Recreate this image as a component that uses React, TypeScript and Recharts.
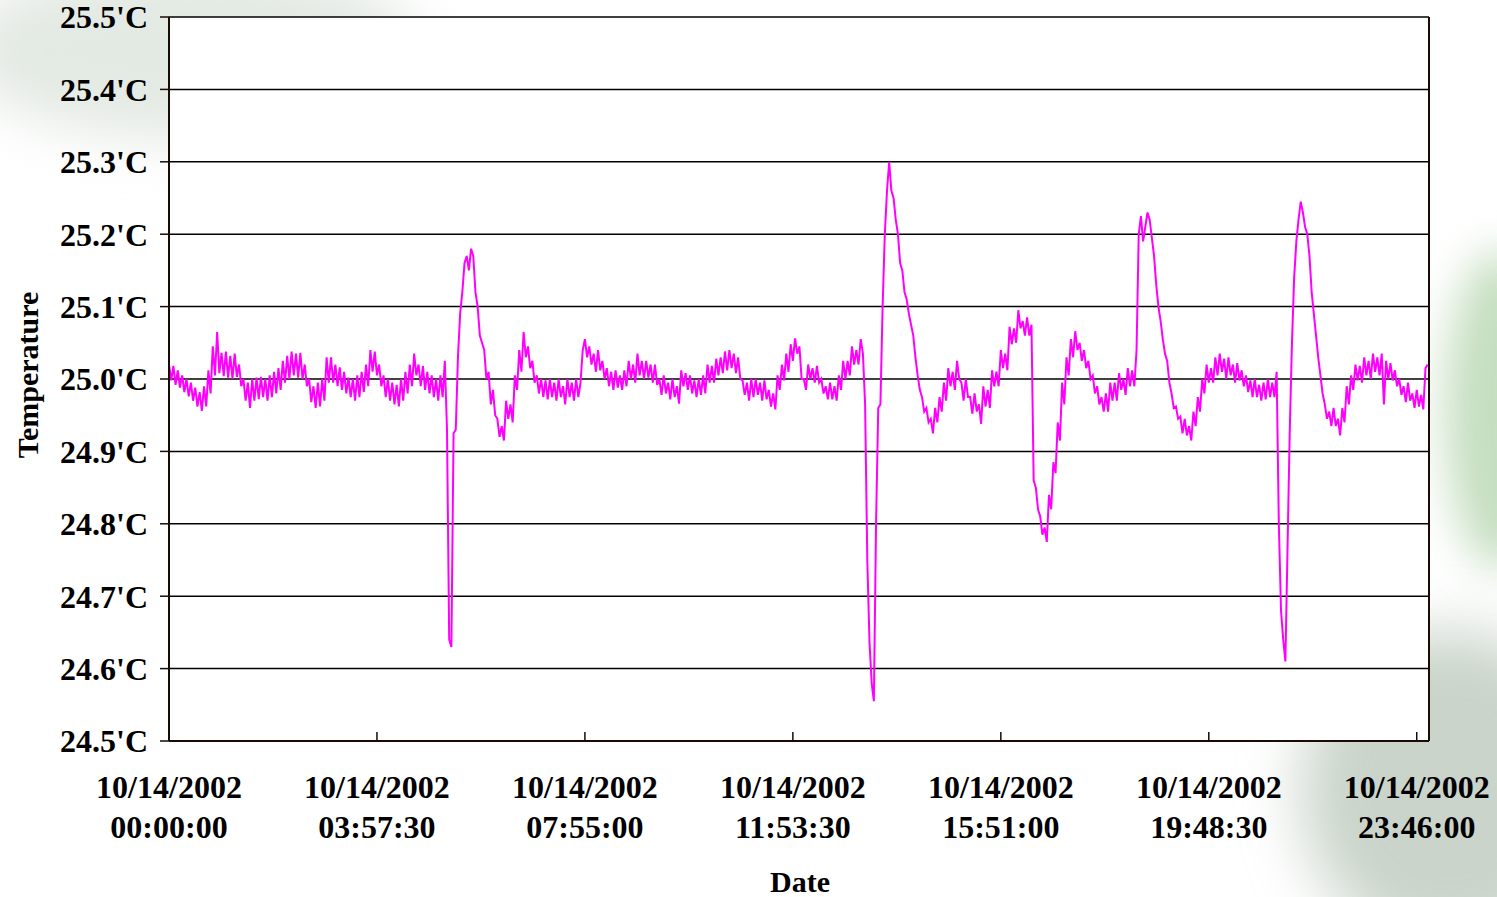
import { CartesianGrid, Line, LineChart, ReferenceLine, XAxis, YAxis } from "recharts";

// temperature log, one reading every 2.5 minutes, split in 4-hour blocks
const block00 = [
  25.02, 24.998, 25.018, 24.992, 25.012, 24.988, 25.005, 24.982, 25.0, 24.976, 24.995, 24.97,
  24.988, 24.962, 24.982, 24.956, 24.99, 24.962, 25.012, 24.98, 25.045, 25.005, 25.065, 25.008,
  25.036, 25.004, 25.038, 25.002, 25.032, 25.0, 25.035, 25.003, 25.02, 24.99, 25.0, 24.97,
  24.995, 24.96, 25.0, 24.97, 25.002, 24.972, 25.003, 24.975, 25.0, 24.97, 25.005, 24.975,
  25.01, 24.98, 25.015, 24.985, 25.025, 24.995, 25.032, 25.0, 25.038, 25.005, 25.035, 25.002,
  25.036, 25.0, 25.02, 24.99, 25.0, 24.968, 24.99, 24.96, 24.995, 24.962, 25.0, 24.97,
  25.03, 24.995, 25.03, 24.995, 25.02, 24.99, 25.016, 24.985, 25.01, 24.98, 25.002, 24.975,
  25.0, 24.97, 25.005, 24.975, 25.01, 24.982, 25.02, 24.99, 25.04, 25.01, 25.038, 25.005,
];
const block04 = [
  25.02, 24.99, 25.005, 24.975, 25.0, 24.97, 24.995, 24.965, 24.992, 24.962, 25.0, 24.97,
  25.01, 24.98, 25.02, 24.99, 25.035, 25.005, 25.02, 24.99, 25.018, 24.985, 25.01, 24.98,
  25.005, 24.975, 25.0, 24.97, 25.005, 24.975, 25.025, 24.93, 24.64, 24.63, 24.925, 24.93,
  25.03, 25.09, 25.12, 25.16, 25.17, 25.15, 25.18, 25.17, 25.12, 25.1, 25.06, 25.05,
  25.04, 25.0, 25.01, 24.965, 24.985, 24.95, 24.945, 24.92, 24.935, 24.915, 24.97, 24.945,
  24.965, 24.94, 25.005, 24.985, 25.04, 25.01, 25.065, 25.03, 25.045, 25.015, 25.025, 24.995,
  25.005, 24.98, 25.0, 24.975, 24.998, 24.972, 25.0, 24.975, 24.995, 24.97, 25.0, 24.975,
  24.99, 24.965, 25.0, 24.975, 24.995, 24.97, 25.0, 24.975, 24.995, 25.04, 25.055, 25.03,
];
const block08 = [
  25.045, 25.02, 25.035, 25.01, 25.04, 25.012, 25.025, 25.0, 25.015, 24.99, 25.01, 24.985,
  25.012, 24.988, 25.005, 24.985, 25.012, 24.99, 25.025, 25.0, 25.02, 24.995, 25.035, 25.005,
  25.025, 25.0, 25.025, 25.002, 25.02, 24.995, 25.02, 24.992, 25.0, 24.978, 25.005, 24.98,
  24.995, 24.972, 25.0, 24.975, 24.99, 24.966, 25.012, 24.99, 25.008, 24.985, 25.005, 24.98,
  24.998, 24.975, 25.0, 24.978, 25.005, 24.98, 25.02, 24.995, 25.018, 24.995, 25.028, 25.005,
  25.03, 25.008, 25.038, 25.012, 25.04, 25.015, 25.035, 25.008, 25.03, 25.0, 24.998, 24.978,
  24.995, 24.97, 25.0, 24.975, 25.0, 24.978, 24.995, 24.97, 24.998, 24.972, 24.985, 24.962,
  24.98, 24.958, 25.005, 24.985, 25.02, 24.998, 25.035, 25.01, 25.048, 25.025, 25.056, 25.035,
];
const block12 = [
  25.045, 25.0, 25.0, 24.985, 25.02, 25.0, 25.015, 24.995, 25.018, 24.995, 25.0, 24.98,
  24.99, 24.972, 24.995, 24.972, 24.99, 24.97, 25.005, 24.985, 25.025, 25.0, 25.025, 25.005,
  25.045, 25.02, 25.04, 25.02, 25.055, 25.035, 24.965, 24.75, 24.637, 24.58, 24.555, 24.8,
  24.96, 24.965, 25.1, 25.2, 25.26, 25.3, 25.26, 25.25, 25.22, 25.2, 25.16, 25.15,
  25.12, 25.11, 25.09, 25.075, 25.06, 25.03, 25.005, 24.985, 24.975, 24.955, 24.96, 24.94,
  24.945, 24.925, 24.96, 24.94, 24.975, 24.955, 24.995, 24.97, 25.015, 24.99, 25.01, 24.985,
  25.025, 25.0, 24.995, 24.97, 25.0, 24.975, 24.975, 24.952, 24.98, 24.955, 24.965, 24.938,
  24.99, 24.962, 24.985, 24.96, 25.012, 24.99, 25.01, 24.99, 25.04, 25.015, 25.035, 25.012,
];
const block16 = [
  25.072, 25.048, 25.07, 25.05, 25.095, 25.07, 25.08, 25.06, 25.085, 25.06, 25.075, 24.86,
  24.85, 24.82, 24.81, 24.785, 24.795, 24.775, 24.84, 24.82, 24.885, 24.87, 24.94, 24.915,
  24.995, 24.965, 25.03, 25.005, 25.055, 25.03, 25.066, 25.04, 25.05, 25.025, 25.04, 25.015,
  25.025, 25.0, 25.005, 24.98, 24.99, 24.965, 24.975, 24.955, 24.98, 24.955, 24.995, 24.97,
  24.995, 24.97, 25.008, 24.985, 25.0, 24.978, 25.015, 24.99, 25.012, 24.99, 25.04, 25.2,
  25.225, 25.19, 25.21, 25.23, 25.22, 25.195, 25.17, 25.13, 25.1, 25.08, 25.055, 25.035,
  25.025, 24.995, 24.98, 24.96, 24.962, 24.945, 24.948, 24.925, 24.945, 24.922, 24.935, 24.915,
  24.955, 24.935, 24.975, 24.955, 25.0, 24.98, 25.02, 24.995, 25.015, 24.995, 25.03, 25.005,
];
const block20 = [
  25.035, 25.01, 25.028, 25.0, 25.03, 25.005, 25.02, 24.995, 25.022, 24.998, 25.012, 24.99,
  25.005, 24.982, 24.998, 24.975, 25.0, 24.975, 24.992, 24.97, 24.995, 24.972, 25.0, 24.975,
  24.995, 24.975, 25.01, 24.8, 24.68, 24.64, 24.61, 24.77, 24.93, 25.05, 25.14, 25.19,
  25.22, 25.245, 25.23, 25.21, 25.2, 25.17, 25.12, 25.09, 25.06, 25.03, 25.005, 24.98,
  24.965, 24.945, 24.955, 24.935, 24.96, 24.935, 24.945, 24.922, 24.96, 24.94, 24.99, 24.965,
  25.005, 24.985, 25.02, 24.998, 25.018, 24.995, 25.03, 25.005, 25.025, 25.0, 25.035, 25.01,
  25.03, 25.005, 25.035, 24.965, 25.025, 25.0, 25.022, 24.998, 25.012, 24.99, 25.0, 24.978,
  24.99, 24.968, 24.995, 24.97, 24.98, 24.96, 24.985, 24.962, 24.978, 24.958, 25.015, 25.02,
];

const stepMinutes = 2.5;
const xTicks = [0, 237.5, 475, 712.5, 950, 1187.5, 1425];
const xDate = "10/14/2002";
const xTimes = ["00:00:00", "03:57:30", "07:55:00", "11:53:30", "15:51:00", "19:48:30", "23:46:00"];
const yTicks = [24.5, 24.6, 24.7, 24.8, 24.9, 25.0, 25.1, 25.2, 25.3, 25.4, 25.5];

const readings = [...block00, ...block04, ...block08, ...block12, ...block16, ...block20];
const data = readings.map((temp, i) => ({ minute: i * stepMinutes, temp }));

const font = "'Liberation Serif', 'Times New Roman', serif";
const frame = "#1a0c04";

function DateTick(props: any) {
  const { x, y, payload } = props;
  const idx = xTicks.indexOf(payload.value);
  return (
    <g>
      <line x1={x} y1={y} x2={x} y2={y - 9} stroke={frame} strokeWidth={1.5} />
      <text x={x} y={y} textAnchor="middle" fontFamily={font} fontWeight="bold" fontSize={32} fill="#000">
        <tspan x={x} dy={57}>{xDate}</tspan>
        <tspan x={x} dy={40}>{xTimes[idx]}</tspan>
      </text>
    </g>
  );
}

export default function App() {
  return (
    <div style={{ position: "absolute", left: 0, top: 0, width: 1497, height: 897, background: "#fff", overflow: "hidden" }}>
      {/* faint backdrop artwork */}
      <div style={{ position: "absolute", left: -40, top: -40, width: 460, height: 180, borderRadius: "50%", background: "rgba(200,212,200,0.5)", filter: "blur(28px)" }} />
      <div style={{ position: "absolute", left: 1445, top: 250, width: 110, height: 320, borderRadius: "50%", background: "rgba(150,195,140,0.55)", filter: "blur(22px)" }} />
      <div style={{ position: "absolute", left: 1300, top: 630, width: 300, height: 320, borderRadius: "50%", background: "rgba(150,170,150,0.5)", filter: "blur(30px)" }} />

      <div style={{ position: "absolute", left: 0, top: 0 }}>
        <LineChart width={1497} height={897} data={data} margin={{ top: 17, right: 68, bottom: 0, left: 0 }}>
          <CartesianGrid vertical={false} stroke="#000" strokeWidth={1.5} fill="#fff" fillOpacity={1} />
          <XAxis
            dataKey="minute"
            type="number"
            domain={[0, 1439]}
            ticks={xTicks}
            interval={0}
            height={156}
            tickSize={0}
            tickMargin={0}
            tickLine={false}
            axisLine={{ stroke: frame, strokeWidth: 2 }}
            tick={<DateTick />}
          />
          <YAxis
            type="number"
            domain={[24.5, 25.5]}
            ticks={yTicks}
            interval={0}
            width={169}
            tickSize={9}
            tickMargin={12}
            tickLine={{ stroke: frame, strokeWidth: 1.5 }}
            axisLine={{ stroke: frame, strokeWidth: 2 }}
            tickFormatter={(v: number) => `${v.toFixed(1)}'C`}
            tick={{ fill: "#000", fontFamily: font, fontWeight: "bold", fontSize: 32 }}
          />
          <ReferenceLine x={1439} stroke={frame} strokeWidth={2} />
          <Line
            type="linear"
            dataKey="temp"
            stroke="#ff00ff"
            strokeWidth={2}
            dot={false}
            isAnimationActive={false}
          />
        </LineChart>
      </div>

      <div style={{ position: "absolute", left: 700, top: 864, width: 200, textAlign: "center", fontFamily: font, fontWeight: "bold", fontSize: 30, lineHeight: "36px" }}>
        Date
      </div>
      <div
        style={{
          position: "absolute",
          left: 28,
          top: 375,
          transform: "translate(-50%, -50%) rotate(-90deg)",
          fontFamily: font,
          fontWeight: "bold",
          fontSize: 30,
          lineHeight: "36px",
          whiteSpace: "nowrap",
        }}
      >
        Temperature
      </div>
    </div>
  );
}
